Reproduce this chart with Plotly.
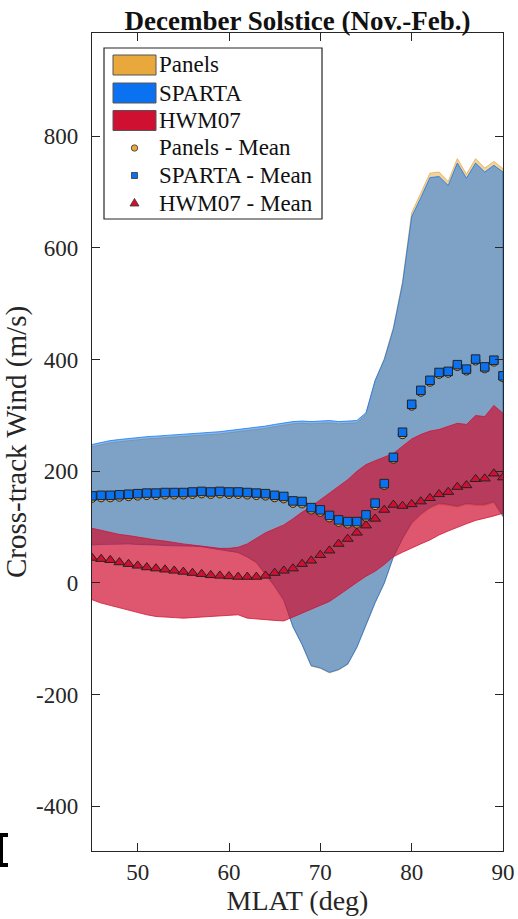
import plotly.graph_objects as go

# ---------------- data ----------------
lat = list(range(45, 91))

panels_upper = [244, 248, 251, 253, 255, 257, 258, 259, 260, 262, 263, 264, 265, 266, 267, 269,
                271, 272, 274, 277, 280, 283, 285, 286, 285, 286, 287, 285, 286, 287, 302, 362,
                402, 458, 540, 663, 698, 734, 736, 719, 760, 732, 760, 743, 755, 742]
panels_lower = [70, 71, 72, 72, 71, 70, 69, 69, 68, 68, 67, 67, 66, 64, 61, 58,
                54, 46, 36, 14, -7, -32, -79, -111, -149, -153, -161, -156, -146, -116, -76, -36,
                -1, 46, 79, 106, 122, 134, 141, 139, 136, 141, 139, 139, 144, 118]
sparta_upper = [248, 252, 255, 257, 259, 261, 262, 263, 264, 266, 267, 268, 269, 270, 271, 273,
                275, 276, 278, 281, 284, 287, 289, 290, 289, 290, 291, 289, 290, 291, 305, 363,
                400, 455, 536, 656, 690, 726, 728, 712, 752, 725, 752, 736, 748, 736]
sparta_lower = [68, 69, 70, 70, 70, 69, 68, 68, 67, 67, 66, 66, 65, 63, 60, 57,
                55, 47, 37, 15, -5, -30, -78, -110, -148, -152, -160, -155, -145, -115, -75, -35,
                0, 47, 80, 108, 124, 136, 143, 141, 138, 143, 141, 141, 146, 120]
hwm_upper = [98, 94, 90, 87, 85, 82, 80, 77, 75, 72, 70, 68, 66, 64, 62, 62,
             64, 70, 80, 90, 97, 104, 115, 127, 137, 149, 160, 172, 185, 200, 212, 219,
             225, 232, 245, 258, 266, 272, 275, 280, 286, 284, 300, 298, 318, 304]
hwm_lower = [-30, -36, -40, -44, -48, -53, -57, -60, -61, -62, -63, -63, -62, -61, -60, -58,
             -57, -63, -64, -66, -67, -68, -62, -55, -47, -40, -33, -22, -11, 1, 12, 21,
             33, 47, 55, 63, 70, 77, 86, 93, 100, 106, 112, 116, 120, 125]

panels_mean = [152, 153, 153, 154, 155, 156, 157, 157, 158, 158, 158, 159, 160, 159, 160, 159,
               159, 158, 157, 156, 153, 151, 143, 142, 131, 127, 117, 109, 106, 106, 118, 139,
               175, 222, 266, 317, 342, 360, 374, 376, 388, 380, 398, 384, 396, 368]
sparta_mean = [156, 157, 157, 158, 159, 160, 161, 161, 162, 162, 162, 163, 164, 163, 164, 163,
               163, 162, 161, 160, 157, 155, 147, 146, 135, 131, 121, 113, 110, 110, 122, 143,
               178, 225, 270, 320, 345, 363, 377, 379, 391, 383, 401, 387, 399, 371]
hwm_mean = [45, 43, 41, 37, 34, 31, 28, 26, 24, 22, 20, 18, 16, 14, 13, 12,
            11, 11, 11, 13, 18, 22, 26, 34, 40, 50, 58, 70, 79, 90, 103, 115,
            131, 140, 138, 141, 146, 152, 159, 163, 172, 175, 186, 187, 196, 189]

legend_labels = ["Panels", "SPARTA", "HWM07", "Panels - Mean", "SPARTA - Mean", "HWM07 - Mean"]
title_text = "December Solstice (Nov.-Feb.)"
x_title = "MLAT (deg)"
y_title = "Cross-track Wind (m/s)"
x_ticks = [50, 60, 70, 80, 90]
x_ticktext = ["50", "60", "70", "80", "90"]
y_ticks = [-400, -200, 0, 200, 400, 600, 800]
y_ticktext = ["-400", "-200", "0", "200", "400", "600", "800"]

# ---------------- styling ----------------
ORANGE = (232, 168, 60)
BLUE = (10, 114, 240)
RED = (208, 16, 48)
EDGE = "#262626"
FONT = '"Liberation Serif", "Times New Roman", serif'


def rgba(c, a):
    return f"rgba({c[0]},{c[1]},{c[2]},{a})"


fig = go.Figure()

for up, lo, c, a in [(panels_upper, panels_lower, ORANGE, 0.5),
                     (sparta_upper, sparta_lower, BLUE, 0.5),
                     (hwm_upper, hwm_lower, RED, 0.7)]:
    bx = lat + lat[::-1]
    by = up + lo[::-1]
    fig.add_trace(go.Scatter(x=bx, y=by, fill="toself", fillcolor=rgba(c, a),
                             mode="lines", line=dict(color=rgba(c, 0.75), width=1),
                             showlegend=False, hoverinfo="skip"))

fig.add_trace(go.Scatter(x=lat, y=panels_mean, mode="markers", showlegend=False,
                         marker=dict(symbol="circle", size=8.5, color=rgba(ORANGE, 1),
                                     line=dict(color="#222", width=1))))
fig.add_trace(go.Scatter(x=lat, y=sparta_mean, mode="markers", showlegend=False,
                         marker=dict(symbol="square", size=8.5, color=rgba(BLUE, 1),
                                     line=dict(color="#222", width=1))))
fig.add_trace(go.Scatter(x=lat, y=hwm_mean, mode="markers", showlegend=False,
                         marker=dict(symbol="triangle-up", size=9.5, color=rgba(RED, 1),
                                     line=dict(color="#222", width=1))))

# plot area in pixels
L, R, T, B = 92, 503, 33, 851
W, H = 518, 919


def xp(px):
    return (px - L) / (R - L)


def yp(py):
    return (B - py) / (B - T)


shapes = []
annotations = []
# legend box
shapes.append(dict(type="rect", xref="paper", yref="paper", x0=xp(104), x1=xp(322),
                   y0=yp(219), y1=yp(48), line=dict(color=EDGE, width=1.2),
                   fillcolor="white", layer="above"))
rows = [65, 93, 120.5, 148, 175.5, 203]
for (c, yc) in zip([ORANGE, BLUE, RED], rows[:3]):
    shapes.append(dict(type="rect", xref="paper", yref="paper", x0=xp(113), x1=xp(156),
                       y0=yp(yc + 10), y1=yp(yc - 10), line=dict(color="#555", width=1),
                       fillcolor=rgba(c, 1), layer="above"))
mx = 134.5
shapes.append(dict(type="circle", xref="paper", yref="paper", x0=xp(mx - 3.2), x1=xp(mx + 3.2),
                   y0=yp(rows[3] + 3.2), y1=yp(rows[3] - 3.2), line=dict(color="#333", width=0.8),
                   fillcolor=rgba(ORANGE, 1), layer="above"))
shapes.append(dict(type="rect", xref="paper", yref="paper", x0=xp(mx - 3), x1=xp(mx + 3),
                   y0=yp(rows[4] + 3), y1=yp(rows[4] - 3), line=dict(color="#333", width=0.8),
                   fillcolor=rgba(BLUE, 1), layer="above"))
ty = rows[5]
shapes.append(dict(type="path", xref="paper", yref="paper",
                   path=f"M{xp(mx - 4.5)},{yp(ty + 3)} L{xp(mx + 4.5)},{yp(ty + 3)} L{xp(mx)},{yp(ty - 4.5)} Z",
                   line=dict(color="#333", width=0.8), fillcolor=rgba(RED, 1), layer="above"))
for lab, yc in zip(legend_labels, rows):
    annotations.append(dict(text=lab, xref="paper", yref="paper", x=xp(157), y=yp(yc),
                            xanchor="left", yanchor="middle", showarrow=False,
                            font=dict(family=FONT, size=23, color="#111")))

# small black bracket at the bottom-left edge of the cropped figure
for (x0, x1, y0, y1) in [(0, 3, 833, 867), (0, 8, 833, 837), (0, 8, 863, 867)]:
    shapes.append(dict(type="rect", xref="paper", yref="paper", x0=xp(x0), x1=xp(x1),
                       y0=yp(y1), y1=yp(y0), line=dict(width=0), fillcolor="black"))

axis_common = dict(showline=True, linecolor=EDGE, linewidth=1.3, mirror="ticks",
                   ticks="inside", ticklen=8, tickwidth=1.3, tickcolor=EDGE,
                   showgrid=False, zeroline=False, automargin=False, layer="above traces",
                   tickfont=dict(family=FONT, size=23, color=EDGE))

fig.update_layout(
    width=W, height=H,
    margin=dict(l=L, r=W - R, t=T, b=H - B, autoexpand=False),
    paper_bgcolor="white", plot_bgcolor="white",
    showlegend=False,
    shapes=shapes, annotations=annotations,
    title=dict(text=title_text, x=0.5, xref="paper", xanchor="center",
               y=1 - 21 / H, yref="container", yanchor="middle",
               font=dict(family=FONT, size=27, color="#111", weight="bold")),
    xaxis=dict(range=[45, 90], tickvals=x_ticks, ticktext=x_ticktext, ticklabelstandoff=0,
               title=dict(text=x_title, standoff=6, font=dict(family=FONT, size=28, color=EDGE)),
               **axis_common),
    yaxis=dict(range=[-480, 985], tickvals=y_ticks, ticktext=y_ticktext, ticklabelstandoff=8,
               title=dict(text=y_title, standoff=4, font=dict(family=FONT, size=29, color=EDGE)),
               **axis_common),
)

fig.write_html("out.html")
